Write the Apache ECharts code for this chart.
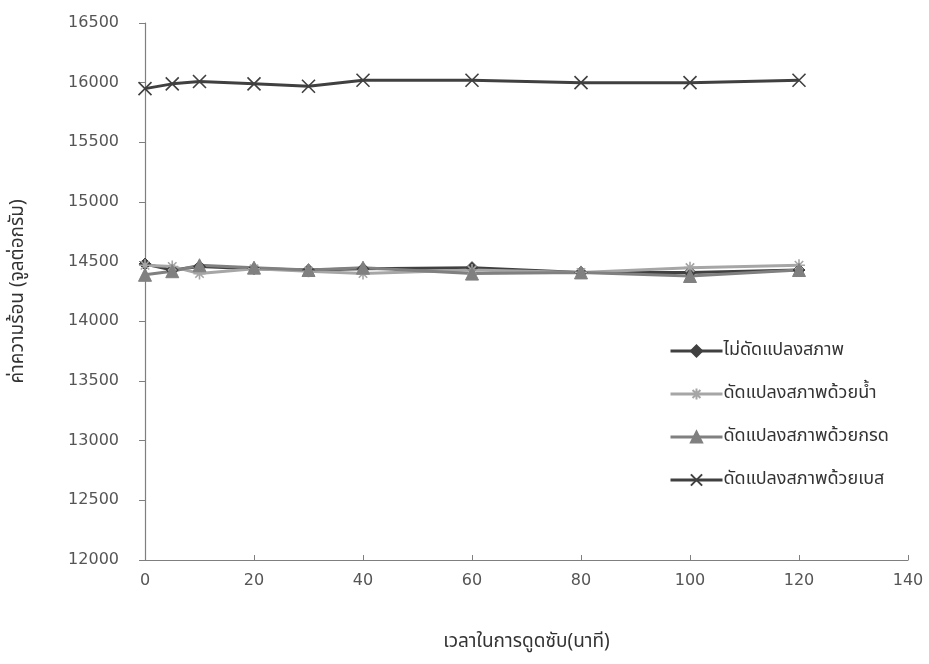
<!DOCTYPE html>
<html>
<head>
<meta charset="utf-8">
<script src="https://cdn.jsdelivr.net/npm/echarts@6/dist/echarts.min.js"></script>
<style>
  html, body { margin: 0; padding: 0; background: #fff; }
  #chart { width: 929px; height: 664px; }
</style>
</head>
<body>
<div id="chart"></div>
<script>
// Absorption time (minutes)
const minutes = [0, 5, 10, 20, 30, 40, 60, 80, 100, 120];

// Heating value (J/g) for each treatment
const untreated   = [14480, 14430, 14460, 14440, 14430, 14440, 14450, 14410, 14410, 14430];
const waterTreated = [14470, 14460, 14400, 14440, 14420, 14400, 14430, 14410, 14450, 14470];
const acidTreated = [14390, 14420, 14470, 14450, 14430, 14450, 14400, 14410, 14380, 14430];
const baseTreated = [15950, 15990, 16010, 15990, 15970, 16020, 16020, 16000, 16000, 16020];

const seriesNames = [
  'ไม่ดัดแปลงสภาพ',
  'ดัดแปลงสภาพด้วยน้ำ',
  'ดัดแปลงสภาพด้วยกรด',
  'ดัดแปลงสภาพด้วยเบส'
];

const xAxisTitle = 'เวลาในการดูดซับ(นาที)';
const yAxisTitle = 'ค่าความร้อน (จูลต่อกรัม)';

const pair = ys => minutes.map((m, i) => [m, ys[i]]);

const starPath = 'path://M5,0 L5,10 M0,5 L10,5 M1.5,1.5 L8.5,8.5 M8.5,1.5 L1.5,8.5';
const crossPath = 'path://M0,0 L10,10 M10,0 L0,10';

const FONT = '"Noto Sans Thai", "Loma", "Garuda", "DejaVu Sans", sans-serif';
const NUM_FONT = '"DejaVu Sans", "Noto Sans", sans-serif';

const chart = echarts.init(document.getElementById('chart'), null, { renderer: 'canvas' });

function lineSeries(name, ys, color, symbol, size, strokeOnly) {
  return {
    name: name,
    type: 'line',
    data: pair(ys),
    symbol: symbol,
    symbolSize: size,
    showAllSymbol: true,
    lineStyle: { color: color, width: 3 },
    itemStyle: strokeOnly
      ? { color: 'rgba(0,0,0,0)', borderColor: color, borderWidth: 1.6 }
      : { color: color, borderColor: color, borderWidth: 1 },
    emphasis: { disabled: true },
    z: 2
  };
}

chart.setOption({
  animation: false,
  backgroundColor: '#ffffff',
  textStyle: { fontFamily: FONT },
  grid: { left: 145, right: 21, top: 23, bottom: 104, containLabel: false },
  legend: {
    orient: 'vertical',
    left: 664,
    top: 337,
    itemWidth: 52,
    itemHeight: 14,
    itemGap: 25,
    lineStyle: { width: 3 },
    textStyle: { fontFamily: FONT, fontSize: 18, color: '#333333', padding: [0, 0, 0, -4] },
    data: seriesNames
  },
  xAxis: {
    type: 'value',
    min: 0,
    max: 140,
    interval: 20,
    name: xAxisTitle,
    nameLocation: 'middle',
    nameGap: 74,
    nameTextStyle: { fontFamily: FONT, fontSize: 19, color: '#333333' },
    axisLine: { show: true, onZero: false, lineStyle: { color: '#7f7f7f', width: 1.2 } },
    axisTick: { show: true, inside: true, length: 5, lineStyle: { color: '#7f7f7f' } },
    axisLabel: { fontFamily: NUM_FONT, fontSize: 16, color: '#555555', margin: 13 },
    splitLine: { show: false }
  },
  yAxis: {
    type: 'value',
    min: 12000,
    max: 16500,
    interval: 500,
    name: yAxisTitle,
    nameLocation: 'middle',
    nameGap: 116,
    nameRotate: 90,
    nameTextStyle: { fontFamily: FONT, fontSize: 19, color: '#333333' },
    axisLine: { show: true, lineStyle: { color: '#7f7f7f', width: 1.2 } },
    axisTick: { show: true, length: 6, lineStyle: { color: '#7f7f7f' } },
    axisLabel: {
      fontFamily: NUM_FONT, fontSize: 16, color: '#555555', margin: 26,
      formatter: v => String(v)
    },
    splitLine: { show: false }
  },
  series: [
    lineSeries(seriesNames[0], untreated, '#404040', 'diamond', 12, false),
    lineSeries(seriesNames[1], waterTreated, '#a6a6a6', starPath, 12, true),
    lineSeries(seriesNames[2], acidTreated, '#808080', 'triangle', 13, false),
    lineSeries(seriesNames[3], baseTreated, '#404040', crossPath, 13, true)
  ]
});
</script>
</body>
</html>
